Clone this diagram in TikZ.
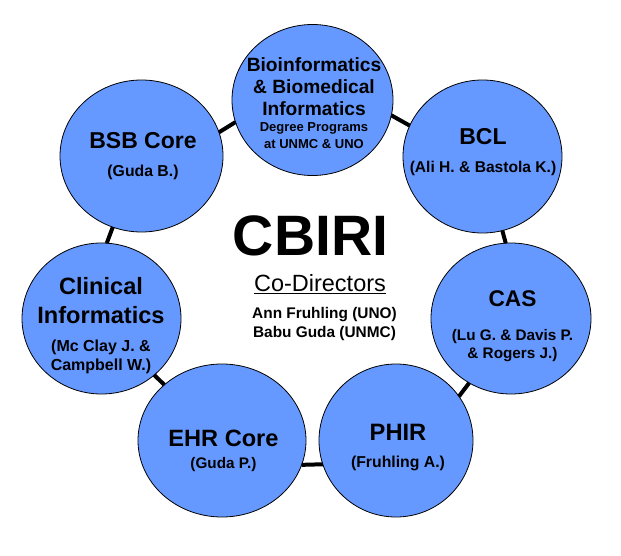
\documentclass[tikz,border=0pt]{standalone}
\usepackage{fontspec}
\setmainfont{Liberation Sans}
\usepackage{xcolor}
\usepackage{tikz}
\usetikzlibrary{shapes.geometric}

\definecolor{unitblue}{RGB}{102,153,255}
\newcommand\fsz[2]{\fontsize{#1}{#2}\selectfont}

\begin{document}
\begin{tikzpicture}[x=1pt,y=-1pt,
	unit/.style={ellipse,draw=black,line width=0.8pt,fill=unitblue,inner sep=0pt,outer sep=0pt},
	link/.style={line width=4pt},
	lbl/.style={anchor=base,align=center,inner sep=0pt}]
	\useasboundingbox (0,0) rectangle (621,556);
	% the seven units
	\node[unit,minimum width=161,minimum height=151] (bio)  at (312.5,100) {};
	\node[unit,minimum width=163,minimum height=152] (bsb)  at (141.5,156) {};
	\node[unit,minimum width=159,minimum height=153] (bcl)  at (482.5,156.5) {};
	\node[unit,minimum width=160,minimum height=151] (cas)  at (511,318.5) {};
	\node[unit,minimum width=159,minimum height=151] (clin) at (101.5,318.5) {};
	\node[unit,minimum width=168,minimum height=153] (ehr)  at (222,440.5) {};
	\node[unit,minimum width=154,minimum height=153] (phir) at (396,440.5) {};
	% links round the ring
	\draw[link] (bsb.17) -- (bio.196);
	\draw[link] (bio.-11) -- (bcl.157);
	\draw[link] (bsb.248) -- (clin.86);
	\draw[link] (bcl.285) -- (cas.94);
	\draw[link] (clin.-47) -- (ehr.136);
	\draw[link] (cas.237) -- (phir.35);
	\draw[link] (ehr.-17) -- (phir.198);
	% texts (placed by the baseline of their last line)
	\node[lbl,font=\bfseries\fsz{19.2}{22}] (biotxt) at (314,148.3)
		{Bioinformatics\\ \& Biomedical\\ Informatics\\[-5.4pt]
		 \fsz{13}{13}Degree Programs\\[-5.4pt] \fsz{13}{13}at UNMC \& UNO};
	\node[lbl,font=\bfseries\fsz{23}{28}] (bsbtxt) at (143,177)
		{BSB Core\\ \fsz{15.8}{15.8}(Guda B.)};
	\node[lbl,font=\bfseries\fsz{23}{28}] (bcltxt) at (483,173)
		{BCL\\ \fsz{15.6}{15.6}(Ali H. \& Bastola K.)};
	\node[lbl,font=\bfseries\fsz{22.7}{33.3}] (castxt) at (512.5,358.3)
		{CAS\\ \fsz{15.3}{15.3}(Lu G. \& Davis P.\\[-15pt] \fsz{15.3}{15.3}\& Rogers J.)};
	\node[lbl,font=\bfseries\fsz{23.6}{29.3}] (clintxt) at (101,370.7)
		{Clinical\\ Informatics\\[-0.9pt] \fsz{16}{16}(Mc Clay J. \&\\[-10.3pt] \fsz{16}{16}Campbell W.)};
	\node[lbl,font=\bfseries\fsz{23.6}{22.3}] (ehrtxt) at (223.5,468.3)
		{EHR Core\\ \fsz{15.3}{15.3}(Guda P.)};
	\node[lbl,font=\bfseries\fsz{23.7}{26.7}] (phirtxt) at (398,467.3)
		{PHIR\\ \fsz{15.8}{15.8}(Fruhling A.)};
	% centre
	\node[lbl,font=\bfseries\fsz{57}{57}] (title) at (310.5,255) {CBIRI};
	\node[lbl,font=\fsz{23.5}{23.5}] (codir) at (320,291.7) {\underline{Co-Directors}};
	\node[lbl,font=\bfseries\fsz{15.4}{19}] (names) at (324.5,337.3)
		{Ann Fruhling (UNO)\\ Babu Guda (UNMC)};
\end{tikzpicture}
\end{document}
